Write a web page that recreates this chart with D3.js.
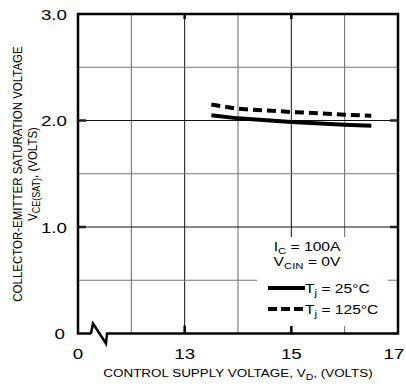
<!DOCTYPE html>
<html>
<head>
<meta charset="utf-8">
<script src="https://cdn.jsdelivr.net/npm/d3@7"></script>
<style>
  html, body { margin: 0; padding: 0; background: #fff; }
  svg { display: block; font-family: Arial, "Liberation Sans", sans-serif; }
</style>
</head>
<body>
<svg id="chart" width="406" height="388"></svg>
<script>
// Control supply voltage (V) — the axis is broken between 0 and 12
const xTickValues = [11, 13, 15, 17];
const xTickLabels = ["0", "13", "15", "17"];
const xGrid = [12, 13, 14, 15, 16];

// Collector-emitter saturation voltage (V)
const yTickValues = [0, 1, 2, 3];
const yTickLabels = ["0", "1.0", "2.0", "3.0"];
const yGrid = [0.5, 1, 1.5, 2, 2.5];

// Curves: Tj = 25°C and Tj = 125°C (Ic = 100A, Vcin = 0V)
const vd = [13.5, 14, 15, 16, 16.5];
const vce25 = [2.05, 2.02, 1.985, 1.96, 1.95];
const vce125 = [2.15, 2.11, 2.08, 2.055, 2.045];

const svg = d3.select("#chart");
const plotL = 78, plotR = 398, plotT = 14, plotB = 333.5;

const x = d3.scaleLinear().domain([11, 17]).range([plotL, plotR]);
const y = d3.scaleLinear().domain([0, 3]).range([plotB, plotT]);

// labels use a slightly wide face
function wideText(parent, px, py, sx, anchor, size, rot) {
  return parent.append("text")
    .attr("transform", `translate(${px},${py}) scale(${sx},1)` + (rot ? ` rotate(${rot})` : ""))
    .attr("text-anchor", anchor).attr("font-size", size);
}

// grid lines: whole values darker, half values lighter
svg.append("g").selectAll("line").data(xGrid).join("line")
  .attr("x1", d => x(d)).attr("x2", d => x(d))
  .attr("y1", plotT).attr("y2", plotB)
  .attr("stroke", d => (d === 13 || d === 15) ? "#111" : "#666")
  .attr("stroke-width", 1);
svg.append("g").selectAll("line").data(yGrid).join("line")
  .attr("x1", plotL).attr("x2", plotR)
  .attr("y1", d => y(d)).attr("y2", d => y(d))
  .attr("stroke", d => Number.isInteger(d) ? "#111" : "#777")
  .attr("stroke-width", 1);

// short heavy ticks on the labelled values
const tickLen = 8;
[13, 15].forEach(v => {
  svg.append("line").attr("x1", x(v)).attr("x2", x(v)).attr("y1", plotT).attr("y2", plotT + 5)
    .attr("stroke", "#000").attr("stroke-width", 2.5);
  svg.append("line").attr("x1", x(v)).attr("x2", x(v)).attr("y1", plotB).attr("y2", plotB - tickLen)
    .attr("stroke", "#000").attr("stroke-width", 2.5);
});
[1, 2].forEach(v => {
  svg.append("line").attr("x1", plotL).attr("x2", plotL + tickLen).attr("y1", y(v)).attr("y2", y(v))
    .attr("stroke", "#222").attr("stroke-width", 2.5);
  svg.append("line").attr("x1", plotR).attr("x2", plotR - tickLen).attr("y1", y(v)).attr("y2", y(v))
    .attr("stroke", "#222").attr("stroke-width", 2.5);
});

// legend backdrop
svg.append("rect").attr("x", 257).attr("y", 237).attr("width", 131).attr("height", 89)
  .attr("fill", "#fff");

// frame with the axis break at the lower left
const framePath = d3.path();
framePath.moveTo(plotL + 13, plotB);
framePath.lineTo(plotL, plotB);
framePath.lineTo(plotL, plotT);
framePath.lineTo(plotR, plotT);
framePath.lineTo(plotR, plotB);
framePath.lineTo(plotL + 29, plotB);
framePath.lineTo(plotL + 28, plotB + 10);
framePath.lineTo(plotL + 15, plotB - 10);
framePath.lineTo(plotL + 13, plotB);
svg.append("path").attr("d", framePath.toString())
  .attr("fill", "none").attr("stroke", "#000").attr("stroke-width", 2.5)
  .attr("stroke-linejoin", "miter");

// curves
const line = d3.line().x(d => x(d[0])).y(d => y(d[1]));
svg.append("path").datum(vd.map((v, i) => [v, vce25[i]]))
  .attr("d", line).attr("fill", "none").attr("stroke", "#000").attr("stroke-width", 4);
svg.append("path").datum(vd.map((v, i) => [v, vce125[i]]))
  .attr("d", line).attr("fill", "none").attr("stroke", "#000").attr("stroke-width", 4)
  .attr("stroke-dasharray", "9,5");

// tick labels
xTickValues.forEach((v, i) => {
  const cx = Math.min(x(v), 394);
  wideText(svg, cx, 359, 1.25, "middle", 15).text(xTickLabels[i]);
});
yTickValues.forEach((v, i) => {
  wideText(svg, v === 0 ? 65 : 67, y(v) + 5.5, 1.25, "end", 15).text(yTickLabels[i]);
});

// axis titles
const xt = wideText(svg, 238, 377, 1.17, "middle", 11.5);
xt.append("tspan").text("CONTROL SUPPLY VOLTAGE, V");
xt.append("tspan").attr("font-size", 9).attr("dy", 3).text("D");
xt.append("tspan").attr("dy", -3).text(", (VOLTS)");

wideText(svg, 21.5, 174, 1.15, "middle", 11.5, -90)
  .text("COLLECTOR-EMITTER SATURATION VOLTAGE");
const yt2 = wideText(svg, 36.5, 174, 1.15, "middle", 11.5, -90);
yt2.append("tspan").text("V");
yt2.append("tspan").attr("font-size", 9).attr("dy", 3).text("CE(SAT)");
yt2.append("tspan").attr("dy", -3).text(", (VOLTS)");

// legend
const lg = svg.append("g");
const t1 = wideText(lg, 307, 251, 1.2, "middle", 13);
t1.append("tspan").text("I");
t1.append("tspan").attr("font-size", 9.5).attr("dy", 2.5).text("C");
t1.append("tspan").attr("dy", -2.5).text(" = 100A");
const t2 = wideText(lg, 307, 266, 1.2, "middle", 13);
t2.append("tspan").text("V");
t2.append("tspan").attr("font-size", 9.5).attr("dy", 3).text("CIN");
t2.append("tspan").attr("dy", -3).text(" = 0V");

const legendItems = [
  { label: "25°C", dash: null, y: 288 },
  { label: "125°C", dash: "9,4", y: 309 }
];
legendItems.forEach(it => {
  lg.append("line").attr("x1", 268).attr("x2", 305).attr("y1", it.y).attr("y2", it.y)
    .attr("stroke", "#000").attr("stroke-width", 4)
    .attr("stroke-dasharray", it.dash);
  const t = wideText(lg, 305, it.y + 5, 1.2, "start", 13);
  t.append("tspan").text("T");
  t.append("tspan").attr("font-size", 9.5).attr("dy", 3).text("j");
  t.append("tspan").attr("dy", -3).text(" = " + it.label);
});
</script>
</body>
</html>
